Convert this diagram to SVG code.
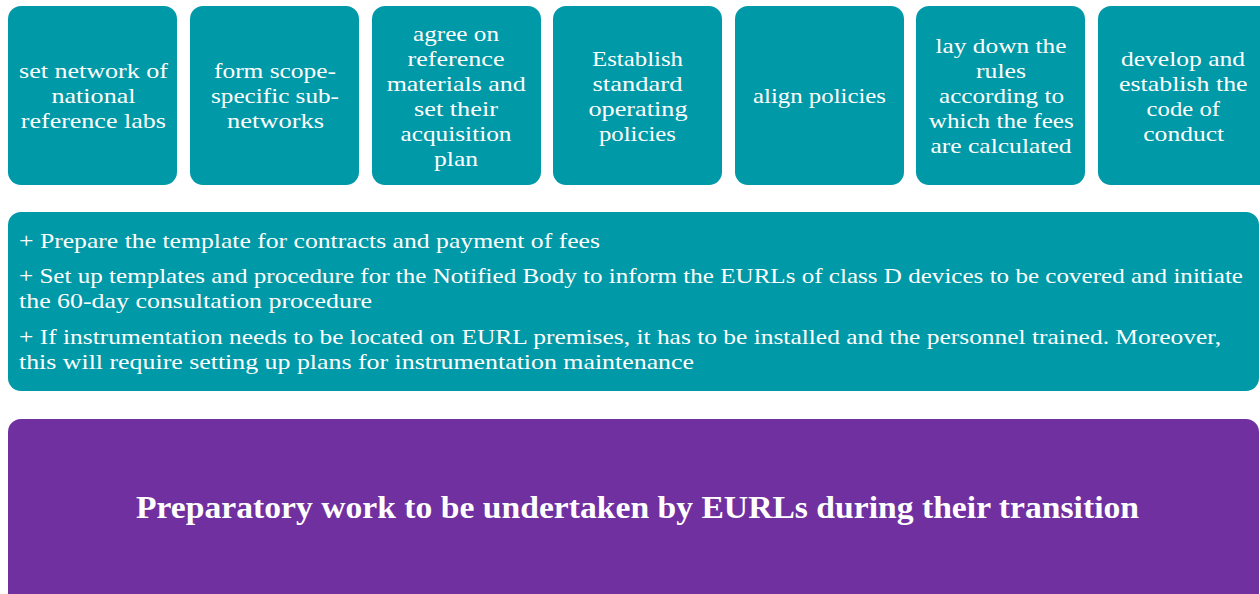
<svg xmlns="http://www.w3.org/2000/svg" width="1260" height="594" viewBox="0 0 1260 594">
<style>
.box{fill:#0099A7}
.pbox{fill:#7030A0}
.t{font-family:"Liberation Serif","Times New Roman",serif;font-size:21px;fill:#ffffff;text-anchor:middle}
.l{font-family:"Liberation Serif","Times New Roman",serif;font-size:21px;fill:#ffffff}
.title{font-family:"Liberation Serif","Times New Roman",serif;font-size:31px;font-weight:bold;fill:#ffffff;text-anchor:middle}
</style>
<rect x="0" y="0" width="1260" height="594" fill="#ffffff"/>
<g id="node1">
<rect class="box" x="8" y="6" width="169" height="179" rx="13"/>
<text class="t" x="93.5" y="78" textLength="149" lengthAdjust="spacingAndGlyphs">set network of</text>
<text class="t" x="93.5" y="103" textLength="84" lengthAdjust="spacingAndGlyphs">national</text>
<text class="t" x="93.3" y="128" textLength="145" lengthAdjust="spacingAndGlyphs">reference labs</text>
</g>
<g id="node2">
<rect class="box" x="190" y="6" width="169" height="179" rx="13"/>
<text class="t" x="275" y="78" textLength="122" lengthAdjust="spacingAndGlyphs">form scope-</text>
<text class="t" x="275" y="103" textLength="128" lengthAdjust="spacingAndGlyphs">specific sub-</text>
<text class="t" x="275.5" y="128" textLength="97" lengthAdjust="spacingAndGlyphs">networks</text>
</g>
<g id="node3">
<rect class="box" x="372" y="6" width="169" height="179" rx="13"/>
<text class="t" x="456" y="41" textLength="86" lengthAdjust="spacingAndGlyphs">agree on</text>
<text class="t" x="456" y="66" textLength="97" lengthAdjust="spacingAndGlyphs">reference</text>
<text class="t" x="456.2" y="91" textLength="139" lengthAdjust="spacingAndGlyphs">materials and</text>
<text class="t" x="456" y="116" textLength="84" lengthAdjust="spacingAndGlyphs">set their</text>
<text class="t" x="456" y="141" textLength="111" lengthAdjust="spacingAndGlyphs">acquisition</text>
<text class="t" x="456" y="166" textLength="44" lengthAdjust="spacingAndGlyphs">plan</text>
</g>
<g id="node4">
<rect class="box" x="553" y="6" width="169" height="179" rx="13"/>
<text class="t" x="637.5" y="66" textLength="91" lengthAdjust="spacingAndGlyphs">Establish</text>
<text class="t" x="637.5" y="91" textLength="90" lengthAdjust="spacingAndGlyphs">standard</text>
<text class="t" x="638" y="116" textLength="99" lengthAdjust="spacingAndGlyphs">operating</text>
<text class="t" x="637.4" y="141" textLength="77" lengthAdjust="spacingAndGlyphs">policies</text>
</g>
<g id="node5">
<rect class="box" x="735" y="6" width="169" height="179" rx="13"/>
<text class="t" x="819.5" y="103" textLength="133" lengthAdjust="spacingAndGlyphs">align policies</text>
</g>
<g id="node6">
<rect class="box" x="916" y="6" width="169" height="179" rx="13"/>
<text class="t" x="1001" y="53" textLength="131" lengthAdjust="spacingAndGlyphs">lay down the</text>
<text class="t" x="1001" y="78" textLength="50" lengthAdjust="spacingAndGlyphs">rules</text>
<text class="t" x="1001.5" y="103" textLength="125" lengthAdjust="spacingAndGlyphs">according to</text>
<text class="t" x="1001.3" y="128" textLength="145" lengthAdjust="spacingAndGlyphs">which the fees</text>
<text class="t" x="1001" y="153" textLength="141" lengthAdjust="spacingAndGlyphs">are calculated</text>
</g>
<g id="node7">
<rect class="box" x="1098" y="6" width="175" height="179" rx="13"/>
<text class="t" x="1183" y="66" textLength="124" lengthAdjust="spacingAndGlyphs">develop and</text>
<text class="t" x="1183.3" y="91" textLength="128.6" lengthAdjust="spacingAndGlyphs">establish the</text>
<text class="t" x="1183.3" y="116" textLength="73.4" lengthAdjust="spacingAndGlyphs">code of</text>
<text class="t" x="1183.7" y="141" textLength="80.8" lengthAdjust="spacingAndGlyphs">conduct</text>
</g>
<g id="node8">
<rect class="box" x="8" y="212" width="1251" height="179" rx="13"/>
<text class="l" x="19" y="248" textLength="581" lengthAdjust="spacingAndGlyphs">+ Prepare the template for contracts and payment of fees</text>
<text class="l" x="19" y="283" textLength="1224" lengthAdjust="spacingAndGlyphs">+ Set up templates and procedure for the Notified Body to inform the EURLs of class D devices to be covered and initiate</text>
<text class="l" x="19" y="308" textLength="353" lengthAdjust="spacingAndGlyphs">the 60-day consultation procedure</text>
<text class="l" x="19" y="344" textLength="1202" lengthAdjust="spacingAndGlyphs">+ If instrumentation needs to be located on EURL premises, it has to be installed and the personnel trained. Moreover,</text>
<text class="l" x="19" y="369" textLength="675" lengthAdjust="spacingAndGlyphs">this will require setting up plans for instrumentation maintenance</text>
</g>
<g id="node9">
<rect class="pbox" x="8" y="419" width="1251" height="195" rx="13"/>
<text class="title" x="637.5" y="518" textLength="1003" lengthAdjust="spacingAndGlyphs">Preparatory work to be undertaken by EURLs during their transition</text>
</g>
<g id="connectors"></g>
</svg>
